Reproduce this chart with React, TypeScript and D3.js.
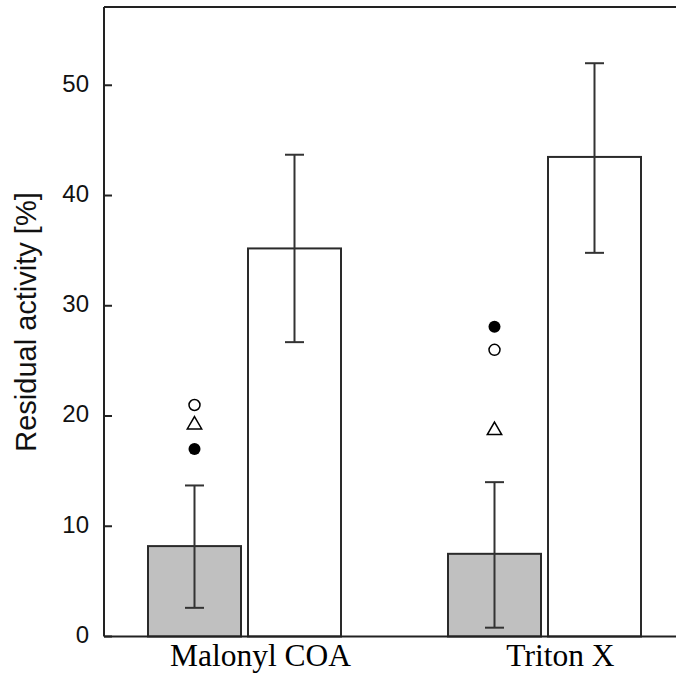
import React from "react";
import * as d3 from "d3";

const categories = ["Malonyl COA", "Triton X"];
const grayValues = [8.2, 7.5];
const grayErrLow = [2.6, 0.8];
const grayErrHigh = [13.7, 14.0];
const whiteValues = [35.2, 43.5];
const whiteErrLow = [26.7, 34.8];
const whiteErrHigh = [43.7, 52.0];
const openCircle = [21.0, 26.0];
const triangle = [19.2, 18.7];
const filledCircle = [17.0, 28.1];
const yTicks = [0, 10, 20, 30, 40, 50];

const W = 676;
const H = 675;
const left = 104;
const right = 684;
const top = 7;
const bottom = 636.5;

export default function App() {
  const y = d3.scaleLinear().domain([0, 57.1]).range([bottom, top]);
  const x = d3.scaleLinear().domain([0, 1]).range([244.5, 544.5]);
  const barOff = 50;
  const barW = 93;
  const capW = 19;
  const stroke = "#2a2a2a";
  const tri = d3.symbol().type(d3.symbolTriangle).size(90)();

  const errBar = (cx: number, lo: number, hi: number, key: string) => (
    <g key={key} stroke="#333" strokeWidth={2}>
      <line x1={cx} x2={cx} y1={y(lo)} y2={y(hi)} />
      <line x1={cx - capW / 2} x2={cx + capW / 2} y1={y(lo)} y2={y(lo)} />
      <line x1={cx - capW / 2} x2={cx + capW / 2} y1={y(hi)} y2={y(hi)} />
    </g>
  );

  return (
    <svg width={W} height={H} style={{ position: "absolute", left: 0, top: 0, background: "#fff" }}>
      <rect x={0} y={0} width={W} height={H} fill="#fff" />
      {categories.map((c, i) => {
        const gx = x(i) - barOff;
        const wx = x(i) + barOff;
        return (
          <g key={c}>
            <rect x={gx - barW / 2} y={y(grayValues[i])} width={barW} height={y(0) - y(grayValues[i])}
              fill="#c0c0c0" stroke={stroke} strokeWidth={2} />
            <rect x={wx - barW / 2} y={y(whiteValues[i])} width={barW} height={y(0) - y(whiteValues[i])}
              fill="#fff" stroke={stroke} strokeWidth={2} />
            {errBar(gx, grayErrLow[i], grayErrHigh[i], "ge" + i)}
            {errBar(wx, whiteErrLow[i], whiteErrHigh[i], "we" + i)}
            <circle cx={gx} cy={y(openCircle[i])} r={5.5} fill="#fff" stroke="#000" strokeWidth={1.5} />
            <path d={tri as string} transform={`translate(${gx},${y(triangle[i])})`} fill="#fff" stroke="#000" strokeWidth={1.5} />
            <circle cx={gx} cy={y(filledCircle[i])} r={6} fill="#000" />
            <text x={x(i) + 16} y={666} textAnchor="middle" fontFamily="'Liberation Serif', 'Times New Roman', serif"
              fontSize={31.5} fill="#000">{c}</text>
          </g>
        );
      })}
      {/* frame */}
      <g stroke="#222" strokeWidth={2} fill="none">
        <line x1={left} x2={left} y1={top} y2={bottom} />
        <line x1={left} x2={right} y1={top} y2={top} />
        <line x1={right} x2={right} y1={top} y2={bottom} />
        <line x1={left} x2={right} y1={bottom} y2={bottom} />
        {yTicks.map((t) => (
          <g key={t}>
            <line x1={left} x2={left + 8} y1={y(t)} y2={y(t)} />
            <line x1={right - 8} x2={right} y1={y(t)} y2={y(t)} />
          </g>
        ))}
      </g>
      {yTicks.map((t) => (
        <text key={"l" + t} x={89} y={y(t) - 2} dy="0.35em" textAnchor="end"
          fontFamily="'Liberation Sans', Arial, sans-serif" fontSize={24} fill="#111">{t}</text>
      ))}
      <text transform={`translate(36,322) rotate(-90)`} textAnchor="middle"
        fontFamily="'Liberation Sans', Arial, sans-serif" fontSize={29} fill="#111">Residual activity [%]</text>
    </svg>
  );
}
